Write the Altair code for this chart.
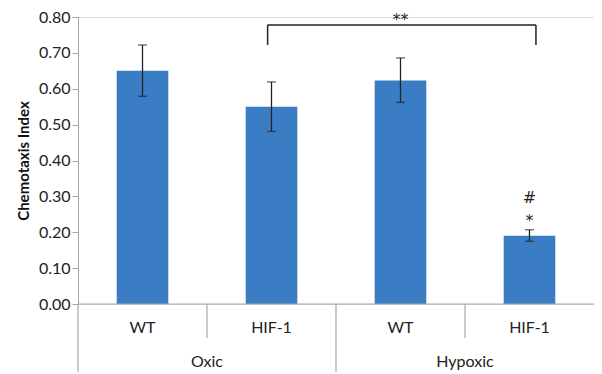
import altair as alt
import pandas as pd

# Data
conditions = ["WT", "HIF-1", "WT", "HIF-1"]
groups = ["Oxic", "Hypoxic"]
means = [0.650, 0.550, 0.623, 0.190]
err_low = [0.579, 0.481, 0.562, 0.175]
err_high = [0.722, 0.619, 0.686, 0.207]
y_ticks = [0.0, 0.1, 0.2, 0.3, 0.4, 0.5, 0.6, 0.7, 0.8]

FONT = "Lato"
BAR = "#3B7DC4"
AX = "#A6A6A6"

W, H = 516, 287

df = pd.DataFrame({
    "idx": list(range(4)),
    "cond": conditions,
    "mean": means,
    "lo": err_low,
    "hi": err_high,
})
df["x0"] = df["idx"] + 0.3
df["x1"] = df["idx"] + 0.7
df["xc"] = df["idx"] + 0.5

xs = alt.Scale(domain=[0, 4], nice=False, zero=False)
ys = alt.Scale(domain=[0, 0.8], nice=False)

YAX = alt.Axis(
    title="Chemotaxis Index", values=y_ticks, format=".2f", labelOverlap=False,
    grid=False, domainColor=AX, tickColor=AX, tickSize=6,
    labelFont=FONT, labelFontSize=16, labelColor="#222222", labelPadding=2,
    titleFont=FONT, titleFontSize=15, titleFontWeight="bold", titleColor="#111111",
    titlePadding=7)


def Y(field):
    return alt.Y(field, scale=ys, axis=YAX, title="Chemotaxis Index")


def X(field):
    return alt.X(field, scale=xs, axis=None)


base = alt.Chart(df)

bars = base.mark_bar(color=BAR).encode(x=X("x0:Q"), x2="x1:Q", y=Y("mean:Q"), y2=alt.datum(0))

err = base.mark_rule(color="#222222", strokeWidth=1.3).encode(x=X("xc:Q"), y=Y("lo:Q"), y2="hi:Q")
cap_lo = base.mark_tick(color="#222222", orient="horizontal", size=9, thickness=1.3).encode(
    x=X("xc:Q"), y=Y("lo:Q"))
cap_hi = base.mark_tick(color="#222222", orient="horizontal", size=9, thickness=1.3).encode(
    x=X("xc:Q"), y=Y("hi:Q"))

# x axis line
axis_df = pd.DataFrame({"a": [0], "b": [4], "y": [0]})
xline = alt.Chart(axis_df).mark_rule(color=AX, strokeWidth=1.2).encode(
    x=X("a:Q"), x2="b:Q", y=Y("y:Q"))

# category separators
sep_df = pd.DataFrame({"x": [1, 3]})
seps = alt.Chart(sep_df).mark_rule(color=AX, strokeWidth=1.2).encode(
    x=X("x:Q"), y=alt.value(H), y2=alt.value(H + 34))
gsep_df = pd.DataFrame({"x": [0, 2]})
gseps = alt.Chart(gsep_df).mark_rule(color=AX, strokeWidth=1.2).encode(
    x=X("x:Q"), y=alt.value(H), y2=alt.value(H + 68))

cond_labels = base.mark_text(font=FONT, fontSize=16, color="#222222", baseline="middle").encode(
    x=X("xc:Q"), y=alt.value(H + 24), text="cond:N")

grp_df = pd.DataFrame({"g": groups, "x": [1, 3]})
grp_labels = alt.Chart(grp_df).mark_text(font=FONT, fontSize=16, color="#222222", baseline="middle").encode(
    x=X("x:Q"), y=alt.value(H + 58), text="g:N")

# significance bracket between HIF-1 Oxic and HIF-1 Hypoxic
br_df = pd.DataFrame({"a": [1.47], "b": [3.55], "top": [0.778], "bot": [0.722]})
br_h = alt.Chart(br_df).mark_rule(color="#222222", strokeWidth=1.5).encode(
    x=X("a:Q"), x2="b:Q", y=Y("top:Q"))
br_l = alt.Chart(br_df).mark_rule(color="#222222", strokeWidth=1.5).encode(
    x=X("a:Q"), y=Y("bot:Q"), y2="top:Q")
br_r = alt.Chart(br_df).mark_rule(color="#222222", strokeWidth=1.5).encode(
    x=X("b:Q"), y=Y("bot:Q"), y2="top:Q")

ann_df = pd.DataFrame({"t": ["**", "#", "*"], "x": [2.5, 3.5, 3.5], "y": [0.792, 0.295, 0.231]})
ann = alt.Chart(ann_df).mark_text(font="DejaVu Sans", fontSize=16, color="#222222", baseline="middle").encode(
    x=X("x:Q"), y=Y("y:Q"), text="t:N")

chart = alt.layer(bars, err, cap_lo, cap_hi, xline, seps, gseps, cond_labels, grp_labels,
                  br_h, br_l, br_r, ann).properties(
    width=W, height=H,
    autosize=alt.AutoSizeParams(type="none"),
    padding={"left": 70, "top": 9, "right": 0, "bottom": 70},
).configure_view(stroke=None).configure(background="white")

chart.save("out.html", embed_options={"renderer": "svg", "actions": False})
